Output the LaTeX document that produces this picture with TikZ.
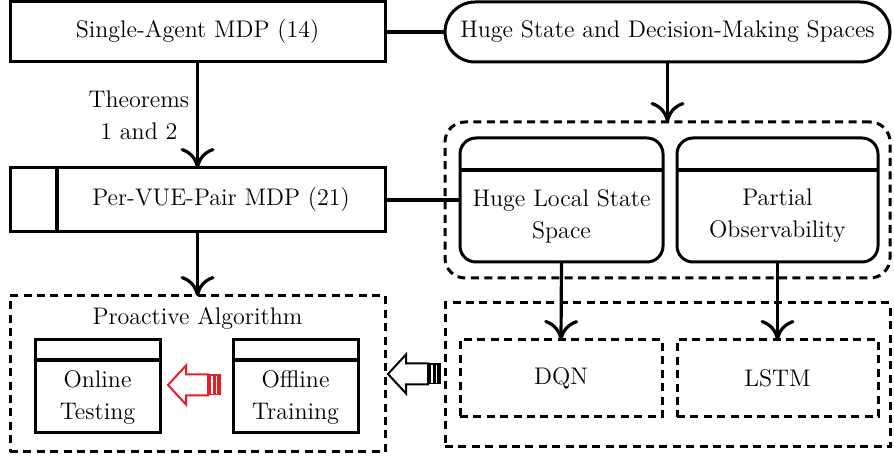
\documentclass[tikz,border=0pt]{standalone}
\usetikzlibrary{arrows.meta}
\definecolor{arrred}{RGB}{230,30,40}
\tikzset{
  every node/.style={font=\fontsize{12}{16}\selectfont},
  box/.style={draw, line width=1.5pt, outer sep=0pt, inner sep=0pt},
  dbox/.style={box, dash pattern=on 4pt off 2.7pt},
  txt/.style={align=center, inner sep=0pt},
  blkarrow/.pic={
    \draw[line width=1pt] (0,0) -- (18,19.5) -- (18,10.5) -- (40,10.5)
      -- (40,-10.5) -- (18,-10.5) -- (18,-19.5) -- cycle;
    \fill (40,-10.5) rectangle (53,10.5);
    \draw[white, line width=0.8pt] (44,-9) -- (44,9) (48.5,-9) -- (48.5,9);
  }
}
\begin{document}
\begin{tikzpicture}[x=0.5pt, y=0.5pt, line width=1.6pt,
    >={To[length=10pt,width=17pt]}]
  \useasboundingbox (0,0) rectangle (894,-459);
  \draw
    (197.5,-32) node[box, minimum width=187.5pt, minimum height=30pt] (sa) {Single-Agent MDP (14)}
    (667.5,-32) node[box, rounded corners=15pt, minimum width=222.5pt, minimum height=30pt] (hs) {Huge State and Decision-Making Spaces}
    (197.5,-200) node[box, minimum width=187.5pt, minimum height=32pt] (pv) {}
    (221,-200) node[txt] (pvt) {Per-VUE-Pair MDP (21)}
    (667.5,-200) node[dbox, rounded corners=10pt, minimum width=222.5pt, minimum height=78pt] (gp) {}
    (561.5,-200) node[box, rounded corners=8pt, minimum width=101.5pt, minimum height=62pt] (hl) {}
    (561.5,-216) node[txt] (hlt) {Huge Local State\\Space}
    (777.5,-200) node[box, rounded corners=8pt, minimum width=100.5pt, minimum height=62pt] (po) {}
    (777.5,-216) node[txt] (pot) {Partial\\Observability}
    (667.5,-375) node[dbox, minimum width=222.5pt, minimum height=72pt] (lrn) {}
    (561,-378.5) node[dbox, minimum width=101pt, minimum height=38.5pt] (dqn) {DQN}
    (777.5,-378.5) node[dbox, minimum width=100.5pt, minimum height=38.5pt] (lstm) {LSTM}
    (197.5,-374) node[dbox, minimum width=187.5pt, minimum height=78pt] (pa) {}
    (197.5,-318) node[txt] (pat) {Proactive Algorithm}
    (97.5,-386.5) node[box, minimum width=62.5pt, minimum height=46.5pt] (on) {}
    (97.5,-398) node[txt] (ont) {Online\\Testing}
    (295.5,-386.5) node[box, minimum width=62.5pt, minimum height=46.5pt] (off) {}
    (295.5,-398) node[txt] (offt) {Offline\\Training};
  \draw ([xshift=23.5pt]pv.north west) -- ([xshift=23.5pt]pv.south west);
  \draw ([yshift=-16pt]hl.north west) -- ([yshift=-16pt]hl.north east);
  \draw ([yshift=-16pt]po.north west) -- ([yshift=-16pt]po.north east);
  \draw ([yshift=-10pt]on.north west) -- ([yshift=-10pt]on.north east);
  \draw ([yshift=-10pt]off.north west) -- ([yshift=-10pt]off.north east);
  \begin{scope}[-]
    \draw (sa) to (hs);
    \draw (pv) to (hl);
  \end{scope}
  \begin{scope}[->]
    \draw (sa.south) to node[midway, left, align=center] (thm) {Theorems\\1 and 2} (pv.north);
    \draw (hs.south) to (gp.north);
    \draw (pv.south) to (pa.north);
    \draw (hl.south) to (dqn.north);
    \draw (po.south) to (lstm.north);
  \end{scope}
  \pic at (388,-374) {blkarrow};
  \pic[arrred] at (168,-385) {blkarrow};
\end{tikzpicture}
\end{document}
